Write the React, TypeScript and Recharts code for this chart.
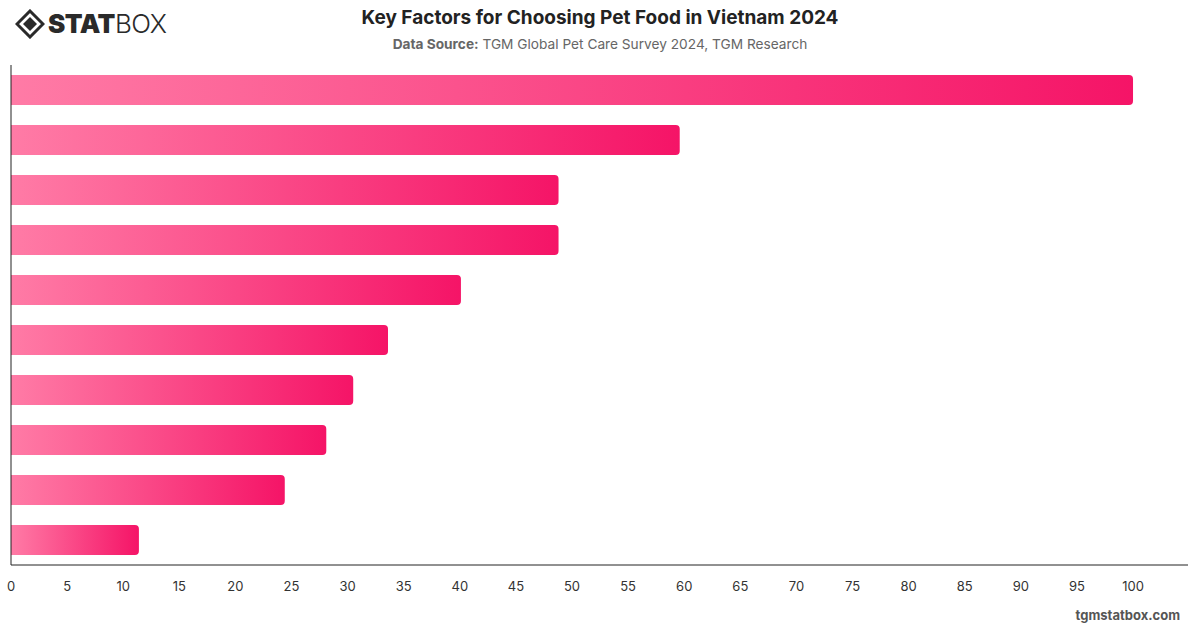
import { BarChart, Bar, XAxis, YAxis } from 'recharts'

const factors = [
  'Factor 1',
  'Factor 2',
  'Factor 3',
  'Factor 4',
  'Factor 5',
  'Factor 6',
  'Factor 7',
  'Factor 8',
  'Factor 9',
  'Factor 10',
]
const shares = [100, 59.6, 48.8, 48.8, 40.1, 33.6, 30.5, 28.1, 24.4, 11.4]
const xTicks = [0, 5, 10, 15, 20, 25, 30, 35, 40, 45, 50, 55, 60, 65, 70, 75, 80, 85, 90, 95, 100]

const data = factors.map((name, i) => ({ name, value: shares[i] }))

const font = 'Inter, "Noto Sans", "DejaVu Sans", sans-serif'

function Logo() {
  return (
    <div style={{ position: 'absolute', left: 15, top: 8, display: 'flex', alignItems: 'center' }}>
      <svg width="30" height="30" viewBox="0 0 30 30">
        <path d="M15 2 L28 15 L15 28 L2 15 Z" fill="none" stroke="#2a2a2a" strokeWidth="3" />
        <path d="M15 8 L22 15 L15 22 L8 15 Z" fill="#2a2a2a" />
      </svg>
      <span style={{ fontFamily: font, fontSize: 26, fontWeight: 900, color: '#2a2a2a', marginLeft: 3, letterSpacing: -0.5 }}>
        STAT
      </span>
      <span style={{ fontFamily: font, fontSize: 26, fontWeight: 300, color: '#2a2a2a', letterSpacing: -0.5 }}>BOX</span>
    </div>
  )
}

export default function App() {
  return (
    <div style={{ position: 'absolute', left: 0, top: 0, width: 1200, height: 628, background: '#fff', fontFamily: font }}>
      <Logo />
      <div style={{ position: 'absolute', top: 6, width: 1200, textAlign: 'center', fontSize: 19, fontWeight: 700, color: '#222' }}>
        Key Factors for Choosing Pet Food in Vietnam 2024
      </div>
      <div style={{ position: 'absolute', top: 36, width: 1200, textAlign: 'center', fontSize: 13.7, color: '#666' }}>
        <b>Data Source:</b> TGM Global Pet Care Survey 2024, TGM Research
      </div>
      <div style={{ position: 'absolute', top: 0, left: 0 }}>
        <BarChart
          width={1200}
          height={628}
          data={data}
          layout="vertical"
          barSize={30}
          margin={{ top: 65, right: 12, left: 10, bottom: 33 }}
        >
          <defs>
            <linearGradient id="barFill" x1="0" y1="0" x2="1" y2="0">
              <stop offset="0%" stopColor="#ff7ba6" />
              <stop offset="100%" stopColor="#f51467" />
            </linearGradient>
          </defs>
          <XAxis
            type="number"
            domain={[0, 104.9]}
            ticks={xTicks}
            tickLine={false}
            tickMargin={11}
            axisLine={{ stroke: '#222' }}
            tick={{ fontSize: 13, fill: '#333' }}
            interval={0}
          />
          <YAxis type="category" dataKey="name" width={1} tick={false} tickLine={false} axisLine={{ stroke: '#222' }} />
          <Bar dataKey="value" fill="url(#barFill)" radius={[0, 4, 4, 0]} isAnimationActive={false} />
        </BarChart>
      </div>
      <div style={{ position: 'absolute', right: 20, top: 607, fontSize: 13, fontWeight: 700, color: '#555' }}>
        tgmstatbox.com
      </div>
    </div>
  )
}
